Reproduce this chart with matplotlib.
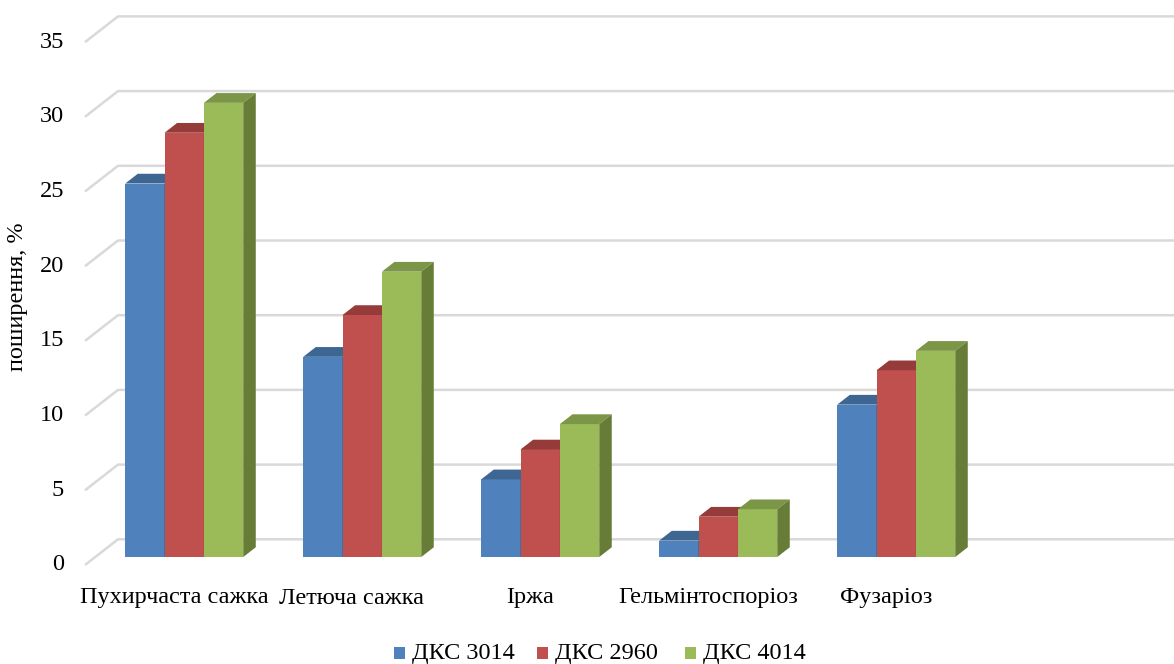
import matplotlib
matplotlib.use("Agg")
import matplotlib.pyplot as plt
from matplotlib.patches import Polygon, Rectangle

# Disease categories and infection rates per variety (%)
categories = ["Пухирчаста сажка", "Летюча сажка", "Іржа", "Гельмінтоспоріоз", "Фузаріоз"]
series_names = ["ДКС 3014", "ДКС 2960", "ДКС 4014"]
dks_3014 = [25.0, 13.4, 5.2, 1.1, 10.2]
dks_2960 = [28.4, 16.2, 7.2, 2.7, 12.5]
dks_4014 = [30.4, 19.1, 8.9, 3.2, 13.8]
y_ticks = [0, 5, 10, 15, 20, 25, 30, 35]

series = [dks_3014, dks_2960, dks_4014]
front_colors = ["#4F81BD", "#C0504D", "#9BBB59"]
top_colors = ["#3D6693", "#953C3A", "#7A9646"]
side_colors = ["#335680", "#7E3230", "#677D37"]

W, H = 1174, 664
fig = plt.figure(figsize=(W / 100, H / 100), dpi=100)
ax = fig.add_axes([0, 0, 1, 1])
ax.set_axis_off()

# pixel -> data mapping: one category = 178 px, one value unit = 14.94 px
px_cat = 178.0
px_val = 14.94
x0_px, y0_px = 85.0, 565.0
ax.set_xlim(-x0_px / px_cat, (W - x0_px) / px_cat)
ax.set_ylim((y0_px - H) / px_val, y0_px / px_val)

# oblique depth offset of the floor (front edge to back wall)
depth_dx = 33.0 / px_cat
depth_dy = 25.7 / px_val
x_right = (W - x0_px) / px_cat

font = ["Liberation Serif", "DejaVu Serif"]
fs = 17.5
grid_color = "#D9D9D9"

# gridlines: front-left slant then along the back wall
for v in y_ticks:
    ax.plot([0, depth_dx, x_right], [v, v + depth_dy, v + depth_dy],
            color=grid_color, lw=1.8, solid_capstyle="butt", zorder=1)
    ax.text(-21 / px_cat, v, str(v), ha="right", va="center",
            fontsize=fs, family=font, color="#000000")

# bars, each as front, top and side faces
bar_w = (1.0 - 60.0 / 178.0) / 3
front_f, back_f = 0.31, 0.69
for ci, cat in enumerate(categories):
    for si, vals in enumerate(series):
        v = vals[ci]
        ox, oy = front_f * depth_dx, front_f * depth_dy
        bx, by = (back_f - front_f) * depth_dx, (back_f - front_f) * depth_dy
        xl = ci + 30.0 / 178.0 + si * bar_w + ox
        xr = xl + bar_w
        z = 3 + si
        # front face
        ax.add_patch(Polygon([(xl, oy), (xr, oy), (xr, oy + v), (xl, oy + v)],
                             closed=True, fc=front_colors[si], ec="none", zorder=z))
        # top face
        ax.add_patch(Polygon([(xl, oy + v), (xr, oy + v), (xr + bx, oy + v + by),
                              (xl + bx, oy + v + by)],
                             closed=True, fc=top_colors[si], ec="none", zorder=z))
        # right side face
        ax.add_patch(Polygon([(xr, oy), (xr + bx, oy + by), (xr + bx, oy + v + by),
                              (xr, oy + v)],
                             closed=True, fc=side_colors[si], ec="none", zorder=z))
    # category label under the floor
    ax.text(ci + 0.5, -33 / px_val, cat, ha="center", va="center",
            fontsize=fs, family=font, color="#000000")

# value axis title
ax.text(-67 / px_cat, (y0_px - 297) / px_val, "поширення, %", rotation=90,
        ha="center", va="center", fontsize=fs, family=font, color="#000000")

# legend
leg_y = (y0_px - 653) / px_val
leg_x = [394, 537, 685]
for name, col, lx in zip(series_names, front_colors, leg_x):
    sq = 11.5
    ax.add_patch(Rectangle(((lx - x0_px) / px_cat, leg_y - sq / 2 / px_val),
                           sq / px_cat, sq / px_val, fc=col, ec="none"))
    ax.text((lx + 18 - x0_px) / px_cat, leg_y, name, ha="left", va="center",
            fontsize=fs, family=font, color="#000000")

fig.savefig("out.png", dpi=100)
